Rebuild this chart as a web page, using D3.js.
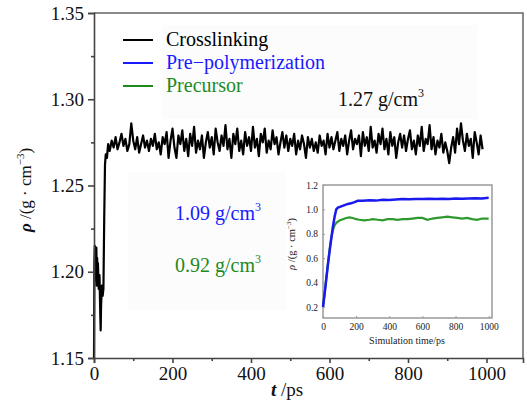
<!DOCTYPE html>
<html>
<head>
    <title>Density vs time</title>
    <script src="https://d3js.org/d3.v7.min.js"></script>
    <style>
        body { margin: 0; background: #fff; }
        text { font-family: "Liberation Serif", "DejaVu Serif", serif; }
    </style>
</head>
<body>
<script>
// crosslinking run: early part (irregular sampling)
const earlyTime = [0, 1, 2, 3, 4, 5, 6, 7, 8, 9, 10, 12, 14, 16, 17, 18, 20, 22, 24, 26, 28, 30, 33, 36, 40];
const earlyRho = [1.150, 1.205, 1.215, 1.195, 1.212, 1.200, 1.214, 1.192, 1.208, 1.196, 1.205, 1.190, 1.198, 1.175, 1.166, 1.180, 1.192, 1.186, 1.190, 1.230, 1.262, 1.268, 1.266, 1.274, 1.270];

// crosslinking run: steady part, one value every 5 ps from 45 ps
const steadyStart = 45, steadyStep = 5;
const steadyRho = [
    1.276,1.272,1.278,1.271,1.275,1.280,1.273,1.277,1.270,1.274,
    1.286,1.276,1.271,1.278,1.269,1.274,1.279,1.272,1.276,1.270,
    1.277,1.273,1.280,1.271,1.275,1.268,1.278,1.274,1.281,1.266,
    1.276,1.283,1.272,1.266,1.279,1.274,1.282,1.270,1.277,1.267,
    1.280,1.273,1.284,1.269,1.276,1.271,1.279,1.266,1.275,1.281,
    1.272,1.278,1.268,1.283,1.275,1.270,1.279,1.273,1.285,1.271,
    1.277,1.266,1.280,1.274,1.283,1.270,1.276,1.268,1.281,1.273,
    1.278,1.270,1.284,1.272,1.277,1.267,1.280,1.275,1.283,1.269,
    1.276,1.271,1.282,1.274,1.278,1.268,1.275,1.281,1.272,1.279,
    1.270,1.277,1.273,1.280,1.268,1.276,1.271,1.279,1.274,1.266,
    1.278,1.272,1.277,1.270,1.275,1.269,1.279,1.273,1.276,1.268,
    1.280,1.272,1.278,1.271,1.276,1.281,1.270,1.277,1.273,1.279,
    1.268,1.276,1.282,1.271,1.277,1.274,1.279,1.267,1.281,1.273,
    1.278,1.270,1.284,1.272,1.276,1.269,1.280,1.274,1.283,1.271,
    1.277,1.268,1.281,1.273,1.278,1.266,1.275,1.280,1.272,1.279,
    1.270,1.277,1.282,1.271,1.276,1.268,1.279,1.273,1.284,1.270,
    1.277,1.274,1.285,1.271,1.278,1.268,1.276,1.272,1.280,1.269,
    1.275,1.270,1.263,1.272,1.278,1.269,1.283,1.274,1.286,1.276,
    1.270,1.280,1.273,1.277,1.266,1.281,1.275,1.268,1.279,1.271
];

// inset series
const insetBlueTime = [0, 10, 20, 30, 40, 50, 60, 70, 80, 90, 110, 130, 150, 170, 190, 210, 240, 280, 320, 360, 400, 440, 480, 520, 560, 600, 640, 680, 720, 760, 800, 840, 880, 920, 960, 1000];
const insetBlueRho = [0.20, 0.31, 0.43, 0.55, 0.66, 0.76, 0.86, 0.94, 1.00, 1.015, 1.025, 1.035, 1.045, 1.05, 1.06, 1.07, 1.07, 1.075, 1.072, 1.08, 1.078, 1.082, 1.085, 1.083, 1.086, 1.085, 1.087, 1.085, 1.088, 1.086, 1.09, 1.088, 1.09, 1.092, 1.09, 1.095];
const insetGreenTime = [0, 10, 20, 30, 40, 50, 60, 70, 80, 100, 120, 140, 160, 180, 200, 220, 250, 280, 300, 330, 360, 390, 420, 450, 480, 510, 540, 570, 600, 630, 660, 690, 720, 750, 780, 810, 840, 870, 900, 930, 960, 1000];
const insetGreenRho = [0.20, 0.32, 0.44, 0.56, 0.67, 0.77, 0.83, 0.87, 0.89, 0.91, 0.92, 0.93, 0.935, 0.93, 0.92, 0.915, 0.91, 0.915, 0.92, 0.915, 0.91, 0.92, 0.92, 0.915, 0.92, 0.92, 0.925, 0.93, 0.93, 0.915, 0.925, 0.93, 0.935, 0.94, 0.935, 0.93, 0.925, 0.93, 0.92, 0.915, 0.925, 0.925];

const xTicks = [0, 200, 400, 600, 800, 1000];
const yTicks = [1.15, 1.20, 1.25, 1.30, 1.35];
const insetXTicks = [0, 200, 400, 600, 800, 1000];
const insetYTicks = [0.2, 0.4, 0.6, 0.8, 1.0, 1.2];

const legendNames = ['Crosslinking', 'Pre\u2212polymerization', 'Precursor'];
const legendColors = ['#000000', '#1a1aff', '#1e8a1e'];

const W = 527, H = 413;
const svg = d3.select('body').append('svg').attr('width', W).attr('height', H);

// main scales
const x = d3.scaleLinear().domain([0, 1093]).range([94, 523]);
const y = d3.scaleLinear().domain([1.15, 1.35]).range([358, 13]);

// faint boxes behind legend and labels
svg.append('rect').attr('x', 162).attr('y', 25).attr('width', 315).attr('height', 94).attr('fill', '#fcfcfc');
svg.append('rect').attr('x', 128).attr('y', 172).attr('width', 158).attr('height', 138).attr('fill', '#fcfcfc');

// frame top/right
svg.append('path')
    .attr('d', `M${x.range()[0]},${y.range()[1]}H${x.range()[1]}V${y.range()[0]}`)
    .attr('fill', 'none').attr('stroke', '#666').attr('stroke-width', 1.5);

const crossData = earlyTime.map((t, i) => ({ t, v: earlyRho[i] }))
    .concat(steadyRho.map((v, i) => ({ t: steadyStart + i * steadyStep, v })));

svg.append('path')
    .datum(crossData)
    .attr('fill', 'none')
    .attr('stroke', '#000')
    .attr('stroke-width', 2.2)
    .attr('stroke-linejoin', 'round')
    .attr('d', d3.line().x(d => x(d.t)).y(d => y(d.v)));

// axes
const xAxis = svg.append('g').attr('transform', `translate(0,${y.range()[0]})`)
    .call(d3.axisBottom(x).tickValues(xTicks).tickSize(5).tickPadding(4).tickFormat(d3.format('d')));
const xMinor = svg.append('g').attr('transform', `translate(0,${y.range()[0]})`)
    .call(d3.axisBottom(x).tickValues([100, 300, 500, 700, 900]).tickSize(3).tickFormat(''));
const yAxis = svg.append('g').attr('transform', `translate(${x.range()[0]},0)`)
    .call(d3.axisLeft(y).tickValues(yTicks).tickSize(6).tickPadding(4).tickFormat(d3.format('.2f')));
const yMinor = svg.append('g').attr('transform', `translate(${x.range()[0]},0)`)
    .call(d3.axisLeft(y).tickValues([1.175, 1.225, 1.275, 1.325]).tickSize(3).tickFormat(''));

[xAxis, xMinor, yAxis, yMinor].forEach(g => {
    g.select('.domain').attr('stroke', '#444').attr('stroke-width', 1.6);
    g.selectAll('.tick line').attr('stroke', '#444').attr('stroke-width', 1.6);
    g.selectAll('text').attr('font-family', '"Liberation Serif", serif').attr('font-size', 19).attr('fill', '#111');
});
xMinor.select('.domain').remove();
yMinor.select('.domain').remove();

// axis titles
const xt = svg.append('text').attr('x', 287).attr('y', 396).attr('text-anchor', 'middle')
    .attr('font-size', 19).attr('fill', '#111');
xt.append('tspan').attr('font-style', 'italic').attr('font-weight', 'bold').text('t');
xt.append('tspan').text(' /ps');

const yt = svg.append('text').attr('transform', 'translate(31,190) rotate(-90)')
    .attr('text-anchor', 'middle').attr('font-size', 17).attr('fill', '#111');
yt.append('tspan').attr('font-style', 'italic').attr('font-weight', 'bold').text('\u03c1');
yt.append('tspan').text(' /(g \u00b7 cm');
yt.append('tspan').attr('font-size', 11).attr('dy', -7).text('\u22123');
yt.append('tspan').attr('dy', 7).text(')');

// legend
legendNames.forEach((name, i) => {
    const ly = 40 + i * 23;
    svg.append('line').attr('x1', 123).attr('x2', 153).attr('y1', ly).attr('y2', ly)
        .attr('stroke', legendColors[i]).attr('stroke-width', 2);
    svg.append('text').attr('x', 166).attr('y', ly + 6).attr('font-size', 20)
        .attr('fill', legendColors[i]).text(name);
});

// density annotations
function densityLabel(px, py, value, color) {
    const t = svg.append('text').attr('x', px).attr('y', py).attr('font-size', 20).attr('fill', color);
    t.append('tspan').text(value + ' g/cm');
    t.append('tspan').attr('font-size', 12).attr('dy', -9).text('3');
}
densityLabel(338, 106, '1.27', '#111');
densityLabel(175, 220, '1.09', '#1a1aff');
densityLabel(175, 272, '0.92', '#1e8a1e');

// inset
const ix = d3.scaleLinear().domain([0, 1020]).range([323, 492]);
const iy = d3.scaleLinear().domain([0.11, 1.2]).range([318, 185]);

svg.append('rect').attr('x', ix.range()[0]).attr('y', iy.range()[1])
    .attr('width', ix.range()[1] - ix.range()[0]).attr('height', iy.range()[0] - iy.range()[1])
    .attr('fill', '#fff').attr('stroke', '#999').attr('stroke-width', 1.5);

const insetLine = d3.line().x(d => ix(d.t)).y(d => iy(d.v));
svg.append('path').datum(insetGreenTime.map((t, i) => ({ t, v: insetGreenRho[i] })))
    .attr('fill', 'none').attr('stroke', '#2e9a2e').attr('stroke-width', 2.2).attr('d', insetLine);
svg.append('path').datum(insetBlueTime.map((t, i) => ({ t, v: insetBlueRho[i] })))
    .attr('fill', 'none').attr('stroke', '#1a1aee').attr('stroke-width', 2.5).attr('d', insetLine);

const ixAxis = svg.append('g').attr('transform', `translate(0,${iy.range()[0]})`)
    .call(d3.axisBottom(ix).tickValues(insetXTicks).tickSize(-2).tickPadding(5).tickFormat(d3.format('d')));
const iyAxis = svg.append('g').attr('transform', `translate(${ix.range()[0]},0)`)
    .call(d3.axisLeft(iy).tickValues(insetYTicks).tickSize(-2).tickPadding(5).tickFormat(d3.format('.1f')));
[ixAxis, iyAxis].forEach(g => {
    g.select('.domain').remove();
    g.selectAll('.tick line').attr('stroke', '#999');
    g.selectAll('text').attr('font-family', '"Liberation Serif", serif').attr('font-size', 9.5).attr('fill', '#222');
});

svg.append('text').attr('x', 407).attr('y', 344).attr('text-anchor', 'middle')
    .attr('font-size', 10).attr('fill', '#222').text('Simulation time/ps');

const iyt = svg.append('text').attr('transform', 'translate(295,244) rotate(-90)')
    .attr('text-anchor', 'middle').attr('font-size', 10.5).attr('fill', '#222');
iyt.append('tspan').attr('font-style', 'italic').text('\u03c1');
iyt.append('tspan').text(' /(g \u00b7 cm');
iyt.append('tspan').attr('font-size', 7).attr('dy', -4).text('\u22123');
iyt.append('tspan').attr('dy', 4).text(')');
</script>
</body>
</html>
